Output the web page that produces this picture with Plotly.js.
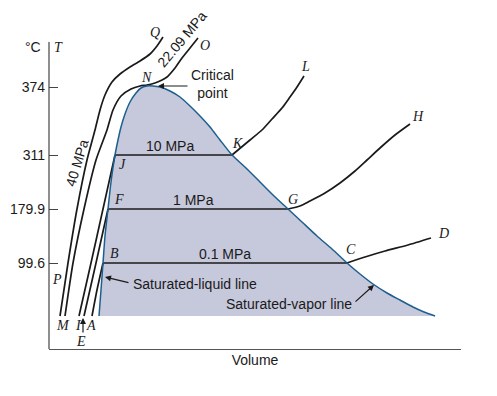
<!DOCTYPE html>
<html>
<head>
<meta charset="utf-8">
<script src="https://cdn.plot.ly/plotly-3.0.1.min.js"></script>
<style>html,body{margin:0;padding:0;background:#fff;}#chart{width:497px;height:396px;}</style>
</head>
<body>
<div id="chart"></div>
<script>
// Schematic T–v diagram for water (schematic units)
// Saturation dome (saturated-liquid line -> critical point -> saturated-vapor line)
const domeV = [50,52,54,56,59,62,66,69,72,76,81,87,92,98,104,111,121,131,141,151,161,171,183,196,211,225,239,253,268,283,298,311,324,338,351,364,375,386];
const domeT = [33,59,86,113,140,167,194,209,222,235,247,256,261,263,263,262,258,252,243,233,222,209,194,182,167,153,140,127,113,100,86,75,65,56,49,42,37,33];

// Constant-pressure lines
const p01V  = [43,48,54,298,316,336,359,382];            // A-B-C-D, 0.1 MPa
const p01T  = [33,59,86,86,92,98,104,111];
const p1V   = [35,47,59,239,251,261,276,291,306,318,331,346,361]; // E-F-G-H, 1 MPa
const p1T   = [33,86,140,140,143,148,156,166,178,189,201,214,225];
const p10V  = [30,42,54,66,183,201,213,223,233,241,248,255];      // I-J-K-L, 10 MPa
const p10T  = [33,86,140,194,194,209,219,230,241,252,262,273];
const pcV   = [16,24,35,47,58,64,72,82,91,98,106,118,126,133,141,149]; // M-N-O, 22.09 MPa
const pcT   = [33,86,140,189,219,239,253,260,263,264,266,272,281,291,301,311];
const p40V  = [11,19,28,38,46,51,56,63,71,81,91,101,108,114];     // P-Q, 40 MPa
const p40T  = [33,86,140,189,219,239,254,267,275,282,288,295,303,312];

// Temperature axis ticks
const tickPos   = [86,140,194,262];
const tickLabel = ['99.6','179.9','311','374'];

// Point letters
const ptNames = ['N','Q','O','L','K','H','G','D','C','J','F','B','P','M','I','A','E'];
const ptV     = [97,106,156,256,188,369,244,394,302,73,70,65,8,14,29,42,32];
const ptT     = [272,317,304,283,206,233,150,116,100,185,150,96,70,24,24,24,8];

const isoLabels = ['10 MPa','1 MPa','0.1 MPa'];
const isoLabV   = [121,144,176];
const isoLabT   = [203,149,95];

const black = '#1a1a1a', blue = '#1d5f8e';
const lineTrace = (x,y,c,w) => ({x:x,y:y,mode:'lines',type:'scatter',line:{color:c,width:w,shape:'spline',smoothing:0.6},hoverinfo:'skip',showlegend:false});
const straight = (x,y) => ({x:x,y:y,mode:'lines',type:'scatter',line:{color:black,width:1.7,shape:'linear'},hoverinfo:'skip',showlegend:false});

const traces = [
  {x:domeV,y:domeT,mode:'lines',type:'scatter',fill:'toself',fillcolor:'#c6c8db',line:{width:0,shape:'spline',smoothing:0.6},hoverinfo:'skip',showlegend:false},
  lineTrace(p01V.slice(0,3),p01T.slice(0,3),black,1.7),
  straight(p01V.slice(2,4),p01T.slice(2,4)),
  lineTrace(p01V.slice(3),p01T.slice(3),black,1.7),
  lineTrace(p1V.slice(0,3),p1T.slice(0,3),black,1.7),
  straight(p1V.slice(2,4),p1T.slice(2,4)),
  lineTrace(p1V.slice(3),p1T.slice(3),black,1.7),
  lineTrace(p10V.slice(0,4),p10T.slice(0,4),black,1.7),
  straight(p10V.slice(3,5),p10T.slice(3,5)),
  lineTrace(p10V.slice(4),p10T.slice(4),black,1.7),
  lineTrace(pcV,pcT,black,1.7),
  lineTrace(p40V,p40T,black,1.7),
  lineTrace(domeV,domeT,blue,1.5)
];

const serif = {family:'Liberation Serif, Times New Roman, serif',size:14,color:black};
const sans  = {family:'Liberation Sans, Arial, sans-serif',size:14,color:black};

const ann = [];
ptNames.forEach((n,i)=>ann.push({x:ptV[i],y:ptT[i],xref:'x',yref:'y',text:'<i>'+n+'</i>',showarrow:false,font:serif}));
isoLabels.forEach((n,i)=>ann.push({x:isoLabV[i],y:isoLabT[i],xref:'x',yref:'y',text:n,showarrow:false,font:sans}));
ann.push({x:9,y:302,xref:'x',yref:'y',text:'<i>T</i>',showarrow:false,font:serif});
ann.push({x:-6/412,y:302,xref:'paper',yref:'y',xanchor:'right',text:'°C',showarrow:false,font:sans});
ann.push({x:163,y:265,xref:'x',yref:'y',text:'Critical<br>point',showarrow:false,font:sans});
ann.push({x:109,y:263,ax:140,ay:263,xref:'x',yref:'y',axref:'x',ayref:'y',text:'',showarrow:true,arrowhead:2,arrowsize:1,arrowwidth:1.2,arrowcolor:black});
ann.push({x:82,y:65,xref:'x',yref:'y',xanchor:'left',text:'Saturated-liquid line',showarrow:false,font:sans});
ann.push({x:56,y:72,ax:81,ay:66,xref:'x',yref:'y',axref:'x',ayref:'y',text:'',showarrow:true,arrowhead:2,arrowsize:1,arrowwidth:1.2,arrowcolor:black});
ann.push({x:240,y:45,xref:'x',yref:'y',text:'Saturated-vapor line',showarrow:false,font:sans});
ann.push({x:325,y:64,ax:305,ay:46,xref:'x',yref:'y',axref:'x',ayref:'y',text:'',showarrow:true,arrowhead:2,arrowsize:1,arrowwidth:1.2,arrowcolor:black});
ann.push({x:34,y:31,ax:34,ay:15,xref:'x',yref:'y',axref:'x',ayref:'y',text:'',showarrow:true,arrowhead:2,arrowsize:1,arrowwidth:1.2,arrowcolor:black});
ann.push({x:28,y:186,xref:'x',yref:'y',text:'40 MPa',textangle:-73,showarrow:false,font:sans});
ann.push({x:133,y:310,xref:'x',yref:'y',text:'22.09 MPa',textangle:-50,showarrow:false,font:sans});

const layout = {
  width:497,height:396,
  margin:{l:49,r:36,t:30,b:47,pad:0},
  paper_bgcolor:'#fff',plot_bgcolor:'#fff',
  showlegend:false,
  xaxis:{range:[0,412],showgrid:false,zeroline:false,showticklabels:false,ticks:'',
         showline:true,linecolor:'#555',linewidth:1.2,
         title:{text:'Volume',font:sans,standoff:6}},
  yaxis:{range:[0,319],showgrid:false,zeroline:false,showline:false,
         tickmode:'array',tickvals:tickPos,ticktext:tickLabel,ticks:'inside',ticklen:9,tickcolor:'#444',tickwidth:1,
         tickfont:sans,ticklabelstandoff:3},
  shapes:[{type:'line',xref:'paper',yref:'y',x0:0,x1:0,y0:0,y1:307,line:{color:'#444',width:1.2}}],
  annotations:ann
};
Plotly.newPlot('chart',traces,layout,{displayModeBar:false,staticPlot:true});
</script>
</body>
</html>
